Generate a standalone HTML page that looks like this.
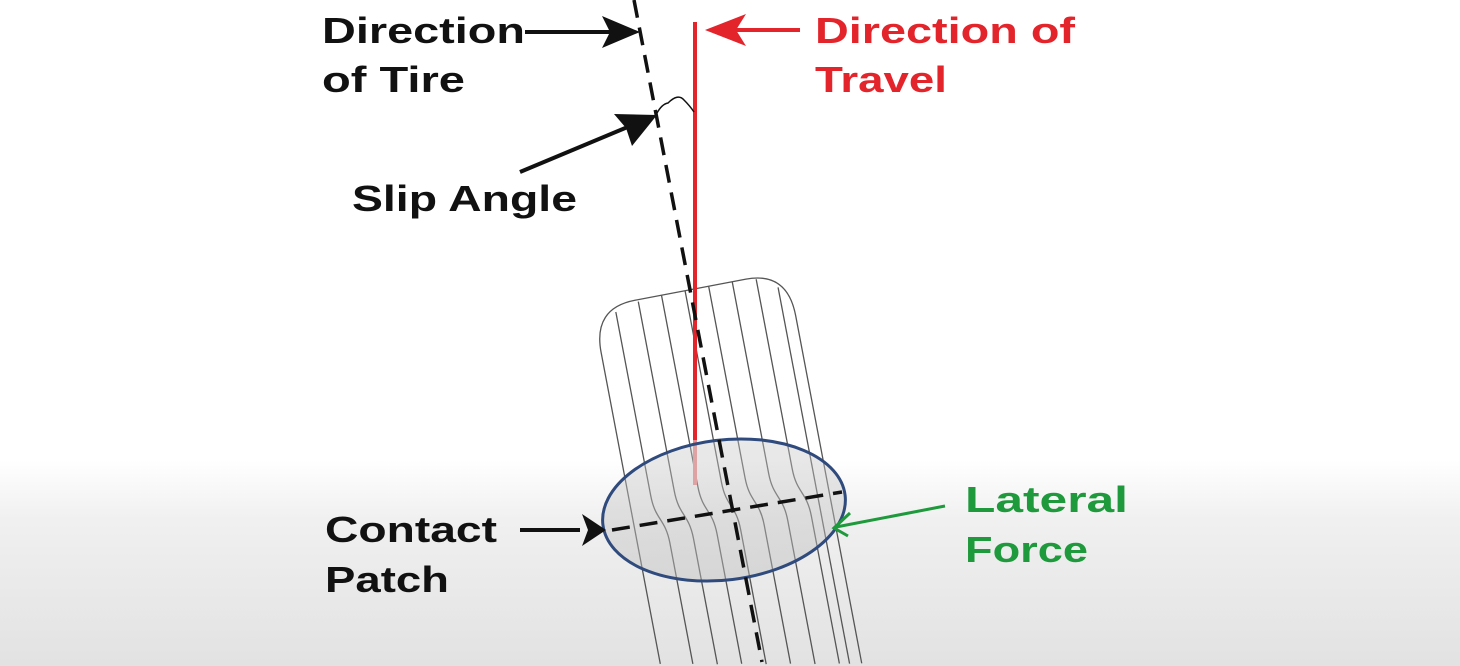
<!DOCTYPE html>
<html><head><meta charset="utf-8"><style>
html,body{margin:0;padding:0;width:1460px;height:666px;overflow:hidden;}
body{background:linear-gradient(to bottom,#fff 0px,#fff 460px,#f0f0f0 520px,#e2e2e2 666px);}
svg{display:block;}
text{font-family:"Liberation Sans",sans-serif;font-weight:bold;font-size:36px;}
</style></head><body>
<svg width="1460" height="666" viewBox="0 0 1460 666">
<defs>
<linearGradient id="eg" x1="0" y1="0" x2="0" y2="1"><stop offset="0" stop-color="#c8c8c8" stop-opacity=".4"/><stop offset="1" stop-color="#bdbdbd" stop-opacity=".45"/></linearGradient>
</defs>
<g transform="translate(689,290) rotate(-10.76)" fill="none" stroke="#555" stroke-width="1.3">
<path d="M-98,362 L-98,45 Q-98,0 -55,0 L58,0 Q100,0 100,45 L100,399"/>
<path d="M-76,8 L-76,195 C-76,220 -66,220 -66,245 L-66,368"/>
<path d="M-52,2 L-52,195 C-52,220 -42,220 -42,245 L-42,373"/>
<path d="M-28,0 L-28,195 C-28,220 -18,220 -18,245 L-18,377"/>
<path d="M-4,0 L-4,195 C-4,220 6,220 6,245 L6,382"/>
<path d="M20,0 L20,195 C20,220 30,220 30,245 L30,386"/>
<path d="M44,0 L44,195 C44,220 54,220 54,245 L54,391"/>
<path d="M68,2 L68,195 C68,220 78,220 78,245 L78,395"/>
<path d="M88,14 L88,397"/>
</g>
<line x1="695" y1="22" x2="695" y2="440" stroke="#e3242b" stroke-width="4"/>
<line x1="695" y1="440" x2="695" y2="485" stroke="#f08a8a" stroke-width="4"/>
<ellipse cx="724" cy="510" rx="122" ry="70" transform="rotate(-7 724 510)" fill="url(#eg)" stroke="#2f4a7c" stroke-width="3"/>
<line x1="634" y1="0" x2="762" y2="662" stroke="#111" stroke-width="3.5" stroke-dasharray="18,10"/>
<line x1="612" y1="530" x2="842" y2="492" stroke="#111" stroke-width="3.5" stroke-dasharray="18,10"/>
<path d="M657,113 Q662,104 668,103 Q678,93 684,100 Q690,106 694,112" fill="none" stroke="#111" stroke-width="1.5"/>
<line x1="525" y1="32" x2="612" y2="32" stroke="#111" stroke-width="4"/>
<polygon points="640,32 602,16 610,32 602,48" fill="#111"/>
<line x1="520" y1="172" x2="630" y2="126" stroke="#111" stroke-width="4"/>
<polygon points="657,115 614,114 626,128 632,146" fill="#111"/>
<line x1="520" y1="530" x2="580" y2="530" stroke="#111" stroke-width="4"/>
<polygon points="606,530 582,514 588,530 582,546" fill="#111"/>
<line x1="800" y1="30" x2="730" y2="30" stroke="#e3242b" stroke-width="4"/>
<polygon points="705,30 746,14 736,30 746,46" fill="#e3242b"/>
<line x1="945" y1="506" x2="836" y2="527" stroke="#1e9a3c" stroke-width="3"/>
<polyline points="850,513 834,528 848,536" fill="none" stroke="#1e9a3c" stroke-width="3"/>
<text x="322" y="43" fill="#111" textLength="203" lengthAdjust="spacingAndGlyphs">Direction</text>
<text x="322" y="92" fill="#111" textLength="143" lengthAdjust="spacingAndGlyphs">of Tire</text>
<text x="352" y="211" fill="#111" textLength="225" lengthAdjust="spacingAndGlyphs">Slip Angle</text>
<text x="815" y="43" fill="#e3242b" textLength="260" lengthAdjust="spacingAndGlyphs">Direction of</text>
<text x="815" y="92" fill="#e3242b" textLength="132" lengthAdjust="spacingAndGlyphs">Travel</text>
<text x="325" y="542" fill="#111" textLength="172" lengthAdjust="spacingAndGlyphs">Contact</text>
<text x="325" y="592" fill="#111" textLength="124" lengthAdjust="spacingAndGlyphs">Patch</text>
<text x="965" y="512" fill="#1e9a3c" textLength="163" lengthAdjust="spacingAndGlyphs">Lateral</text>
<text x="965" y="562" fill="#1e9a3c" textLength="123" lengthAdjust="spacingAndGlyphs">Force</text>
</svg>
</body></html>
